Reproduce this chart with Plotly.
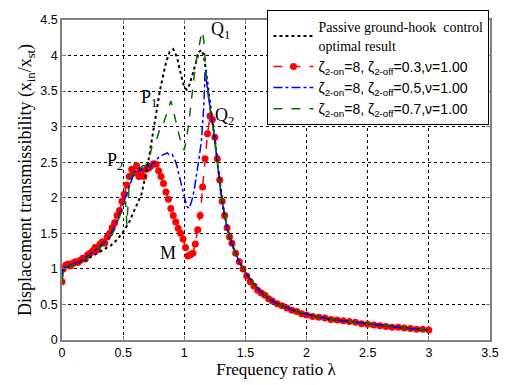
import plotly.graph_objects as go

# ---------------- data ----------------
tail_x = [1.32, 1.35, 1.40, 1.45, 1.50, 1.55, 1.60, 1.65, 1.70, 1.75, 1.80, 1.85, 1.90, 1.95,
          2.00, 2.10, 2.20, 2.30, 2.40, 2.50, 2.60, 2.70, 2.80, 2.90, 3.00]
tail_y = [1.85, 1.58, 1.30, 1.10, 0.95, 0.83, 0.72, 0.64, 0.57, 0.52, 0.48, 0.44, 0.41, 0.38,
          0.36, 0.32, 0.29, 0.27, 0.25, 0.22, 0.20, 0.18, 0.17, 0.15, 0.14]

passive_x = [0, 0.05, 0.1, 0.15, 0.2, 0.25, 0.3, 0.35, 0.4, 0.45, 0.5, 0.55, 0.6, 0.65, 0.7,
             0.75, 0.8, 0.85, 0.88, 0.91, 0.94, 0.97, 1.0, 1.02, 1.04, 1.07, 1.1, 1.12, 1.14,
             1.16, 1.18, 1.2, 1.22, 1.24, 1.26, 1.28, 1.3]
passive_y = [0.98, 1.03, 1.06, 1.09, 1.13, 1.18, 1.23, 1.28, 1.33, 1.41, 1.52, 1.66, 1.85, 2.05,
             2.45, 2.95, 3.5, 3.9, 4.05, 4.09, 3.98, 3.75, 3.55, 3.52, 3.58, 3.75, 3.95, 4.05,
             4.08, 4.0, 3.75, 3.45, 3.2, 2.95, 2.65, 2.35, 2.1]

red_x = [0, 0.01, 0.03, 0.05, 0.07, 0.09, 0.11, 0.13, 0.15, 0.17, 0.19, 0.21, 0.23, 0.25, 0.27,
         0.29, 0.31, 0.33, 0.35, 0.37, 0.39, 0.41, 0.43, 0.45, 0.47, 0.49, 0.51, 0.53, 0.55,
         0.57, 0.59, 0.61, 0.63, 0.65, 0.67, 0.69, 0.71, 0.73, 0.75, 0.77, 0.79, 0.81, 0.83,
         0.85, 0.87, 0.89, 0.91, 0.93, 0.95, 0.97, 0.99, 1.01, 1.03, 1.05, 1.07, 1.09, 1.11,
         1.13, 1.15, 1.17, 1.19, 1.21, 1.23, 1.25, 1.27, 1.29, 1.31, 1.33, 1.35, 1.37, 1.39,
         1.42, 1.45, 1.48, 1.51, 1.54, 1.57, 1.60, 1.63, 1.66, 1.69, 1.72, 1.76, 1.80, 1.84,
         1.88, 1.92, 1.96, 2.00, 2.05, 2.10, 2.15, 2.20, 2.25, 2.30, 2.35, 2.40, 2.45, 2.50,
         2.55, 2.60, 2.65, 2.70, 2.75, 2.80, 2.85, 2.90, 2.95, 3.00]
red_y = [0.82, 1.00, 1.05, 1.07, 1.04, 1.08, 1.10, 1.09, 1.12, 1.15, 1.14, 1.20, 1.22, 1.25, 1.30,
         1.27, 1.35, 1.38, 1.36, 1.45, 1.50, 1.58, 1.65, 1.75, 1.82, 1.95, 2.05, 2.18, 2.30,
         2.40, 2.35, 2.45, 2.30, 2.38, 2.30, 2.40, 2.42, 2.45, 2.48, 2.47, 2.38, 2.30, 2.20,
         2.08, 1.98, 1.85, 1.75, 1.66, 1.57, 1.50, 1.42, 1.30, 1.18, 1.20, 1.22, 1.35, 1.55,
         1.75, 2.15, 2.55, 2.90, 3.15, 3.10, 2.85, 2.55, 2.25, 1.95, 1.75, 1.58, 1.45, 1.36,
         1.22, 1.10, 1.00, 0.90, 0.82, 0.76, 0.70, 0.66, 0.63, 0.58, 0.55, 0.51, 0.48, 0.45,
         0.42, 0.40, 0.37, 0.35, 0.33, 0.32, 0.31, 0.29, 0.28, 0.27, 0.26, 0.25, 0.23, 0.22,
         0.21, 0.20, 0.19, 0.18, 0.18, 0.17, 0.16, 0.15, 0.15, 0.14]

blue_x = [0, 0.01, 0.03, 0.05, 0.08, 0.1, 0.13, 0.15, 0.18, 0.2, 0.23, 0.25, 0.28, 0.3, 0.33,
          0.35, 0.38, 0.4, 0.43, 0.45, 0.48, 0.5, 0.52, 0.54, 0.56, 0.58, 0.6, 0.62, 0.64, 0.66,
          0.68, 0.7, 0.72, 0.74, 0.76, 0.78, 0.8, 0.82, 0.84, 0.86, 0.88, 0.9, 0.92, 0.94, 0.96,
          0.98, 1.0, 1.02, 1.04, 1.06, 1.08, 1.1, 1.12, 1.14, 1.16, 1.17, 1.19, 1.22, 1.25,
          1.28, 1.3]
blue_y = [0.85, 1.00, 1.03, 1.05, 1.06, 1.08, 1.10, 1.12, 1.13, 1.17, 1.20, 1.24, 1.27, 1.30,
          1.34, 1.38, 1.42, 1.50, 1.58, 1.68, 1.80, 1.92, 2.02, 2.12, 2.22, 2.30, 2.38, 2.35,
          2.42, 2.38, 2.40, 2.45, 2.42, 2.48, 2.50, 2.55, 2.59, 2.60, 2.62, 2.63, 2.60, 2.61,
          2.55, 2.45, 2.30, 2.15, 2.00, 1.88, 1.85, 1.95, 2.10, 2.30, 2.55, 2.80, 3.30, 3.78,
          3.50, 3.15, 2.80, 2.35, 2.05]

green_x = [0, 0.01, 0.03, 0.05, 0.08, 0.1, 0.13, 0.15, 0.18, 0.2, 0.23, 0.25, 0.28, 0.3, 0.33,
           0.35, 0.38, 0.4, 0.43, 0.45, 0.48, 0.5, 0.52, 0.53, 0.55, 0.56, 0.58, 0.6, 0.62,
           0.64, 0.66, 0.68, 0.7, 0.72, 0.74, 0.76, 0.78, 0.8, 0.82, 0.84, 0.86, 0.88, 0.89,
           0.9, 0.92, 0.94, 0.96, 0.98, 1.0, 1.02, 1.04, 1.06, 1.08, 1.1, 1.12, 1.14, 1.15,
           1.16, 1.18, 1.2, 1.22, 1.24, 1.26, 1.28, 1.3]
green_y = [0.80, 1.00, 1.02, 1.04, 1.05, 1.06, 1.08, 1.10, 1.12, 1.15, 1.20, 1.22, 1.26, 1.28,
           1.33, 1.36, 1.40, 1.47, 1.55, 1.65, 1.78, 1.88, 1.95, 1.62, 2.20, 2.30, 2.35, 2.40,
           2.38, 2.42, 2.45, 2.45, 2.50, 2.60, 2.75, 2.80, 2.85, 2.97, 3.00, 3.10, 3.20, 3.30,
           3.36, 3.30, 3.15, 3.00, 2.85, 2.72, 2.67, 2.85, 3.10, 3.45, 3.70, 3.95, 4.15, 4.30,
           4.34, 4.20, 3.70, 3.35, 3.15, 2.95, 2.65, 2.35, 2.10]

x_ticks = [0, 0.5, 1, 1.5, 2, 2.5, 3, 3.5]
y_ticks = [0, 0.5, 1, 1.5, 2, 2.5, 3, 3.5, 4, 4.5]

labels = [("Q<sub>1</sub>", 1.30, 4.35), ("P<sub>1</sub>", 0.71, 3.40), ("Q<sub>2</sub>", 1.33, 3.15),
          ("P<sub>2</sub>", 0.43, 2.51), ("M", 0.87, 1.22)]

SERIF = "Liberation Serif, Times New Roman, serif"
SANS = "Liberation Sans, Arial, sans-serif"

def zeta_name(off):
    return ("ζ<sub>2-on</sub>=8, ζ<sub>2-off</sub>=" + off + ",ν=1.00")

serif_span = "<span style=\"font-family:'Times New Roman',serif\">{}</span>"
passive_name = serif_span.format("Passive ground-hook  control") + "<br>" + serif_span.format("optimal result")

fig = go.Figure()
fig.add_trace(go.Scatter(
    x=red_x, y=red_y, mode="lines+markers", name=zeta_name("0.3"),
    line=dict(color="#ff0000", width=1.5, dash="dash"),
    marker=dict(color="#ff0000", size=7, symbol="circle", line=dict(width=0)),
    legendrank=2))
fig.add_trace(go.Scatter(
    x=passive_x + tail_x, y=passive_y + tail_y, mode="lines", name=passive_name,
    line=dict(color="black", width=2, dash="dot"), legendrank=1))
fig.add_trace(go.Scatter(
    x=blue_x + tail_x, y=blue_y + tail_y, mode="lines", name=zeta_name("0.5"),
    line=dict(color="#0000ff", width=1.5, dash="dashdot"), legendrank=3))
fig.add_trace(go.Scatter(
    x=green_x + tail_x, y=green_y + tail_y, mode="lines", name=zeta_name("0.7"),
    line=dict(color="#007000", width=1.5, dash="dash"), legendrank=4))

for txt, lx, ly in labels:
    fig.add_annotation(x=lx, y=ly, text=txt, showarrow=False,
                       font=dict(family=SERIF, size=18, color="black"))

axis_common = dict(
    showgrid=True, gridcolor="#000000", gridwidth=1, griddash="dot",
    showline=True, linecolor="#808080", linewidth=1.5, mirror="ticks",
    ticks="inside", ticklen=4, tickcolor="#808080", zeroline=False,
    tickfont=dict(family=SANS, size=12.5, color="black"),
)

fig.update_layout(
    width=513, height=385,
    margin=dict(l=62, r=23, t=10, b=42),
    paper_bgcolor="white", plot_bgcolor="rgba(255,255,255,0)",
    xaxis=dict(range=[0, 3.5], tickmode="array", tickvals=x_ticks,
               ticktext=[f"{v:g}" for v in x_ticks],
               title=dict(text="Frequency ratio λ", font=dict(family=SERIF, size=17, color="black"),
                          standoff=3),
               **axis_common),
    yaxis=dict(range=[0, 4.5], tickmode="array", tickvals=y_ticks,
               ticktext=[f"{v:g}" for v in y_ticks],
               title=dict(text="Displacement transmissibility (x<sub>in</sub>/x<sub>st</sub>)",
                          font=dict(family=SERIF, size=18, color="black"), standoff=4),
               **axis_common),
    legend=dict(x=0.48, y=1.03, xanchor="left", yanchor="top",
                bgcolor="white", bordercolor="black", borderwidth=1,
                font=dict(family=SANS, size=14, color="black"),
                itemwidth=40, tracegroupgap=0),
    showlegend=True,
)

fig.write_html("out.html")
